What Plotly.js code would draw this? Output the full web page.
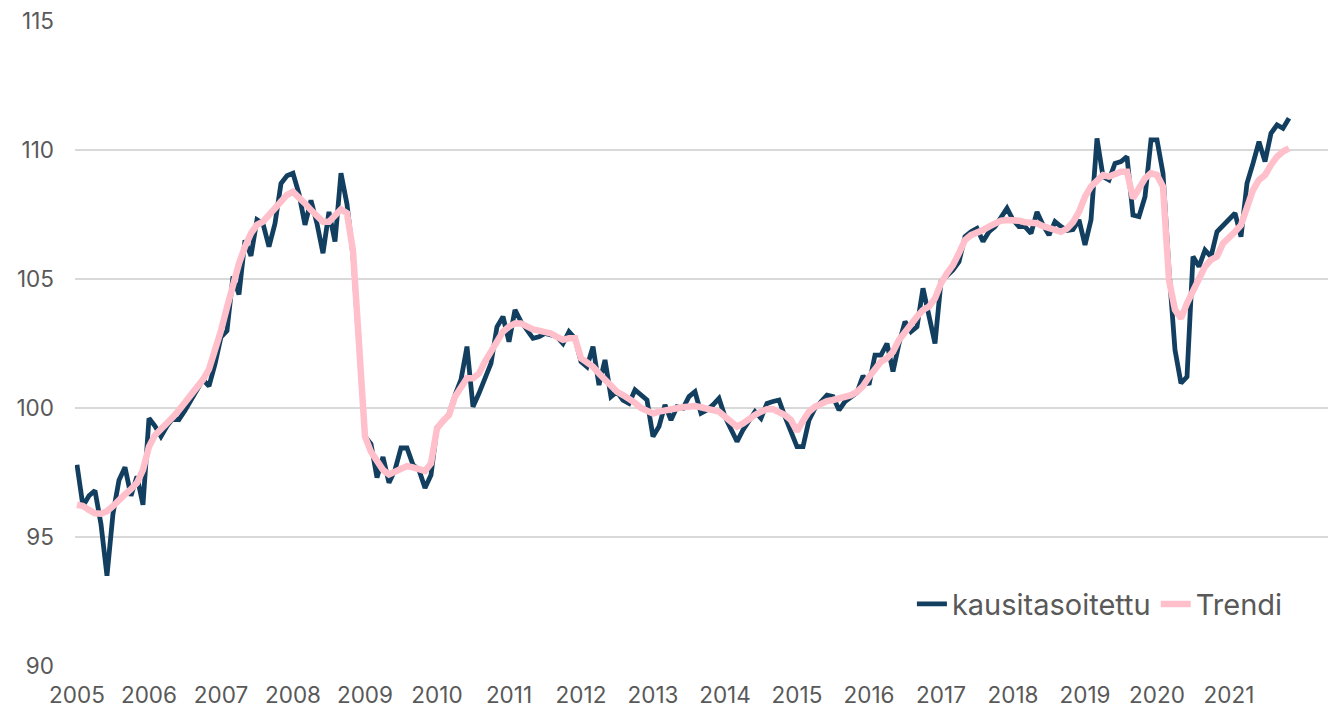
<!DOCTYPE html>
<html>
<head>
<meta charset="utf-8">
<script src="https://cdn.plot.ly/plotly-3.0.1.min.js"></script>
<style>
html,body{margin:0;padding:0;background:#fff;}
#chart{width:1328px;height:707px;}
</style>
</head>
<body>
<div id="chart"></div>
<script>
// Monthly data 2005-01 .. 2021-11
var startYear = 2005;
var yearLabels = ["2005","2006","2007","2008","2009","2010","2011","2012","2013","2014","2015","2016","2017","2018","2019","2020","2021"];

var kausitasoitettu = [
97.8,96.2,96.6,96.8,95.5,93.5,95.9,97.2,97.7,96.6,97.35,96.25,
99.6,99.3,98.9,99.3,99.6,99.55,99.9,100.3,100.7,101.1,100.85,101.7,
102.75,103.0,105.1,104.4,106.5,105.9,107.3,107.15,106.25,107.15,108.7,109.0,
109.1,108.3,107.1,108.05,107.15,106.0,107.6,106.45,109.1,107.9,105.9,102.4,
98.9,98.6,97.3,98.1,97.1,97.6,98.45,98.45,97.8,97.6,96.9,97.4,
99.25,99.47,99.77,100.5,101.1,102.38,100.05,100.57,101.2,101.73,103.15,103.54,
102.57,103.8,103.35,103.02,102.7,102.76,102.89,102.83,102.76,102.5,102.96,102.7,
101.8,101.6,102.38,100.89,101.86,100.44,100.63,100.3,100.18,100.7,100.5,100.31,
98.89,99.28,100.12,99.53,100.05,99.99,100.44,100.63,99.8,99.92,100.12,100.37,
99.66,99.15,98.7,99.15,99.53,99.86,99.6,100.18,100.25,100.31,99.66,99.02,
98.5,98.5,99.53,99.99,100.25,100.5,100.44,99.92,100.25,100.44,100.6,101.25,
100.9,102.05,102.05,102.5,101.41,102.5,103.35,102.96,103.15,104.64,103.6,102.5,
104.9,105.15,105.35,105.67,106.64,106.83,106.96,106.45,106.83,107.03,107.35,107.74,
107.29,107.03,107.03,106.77,107.6,107.09,106.7,107.22,107.03,106.88,106.92,107.29,
106.32,107.29,110.45,108.97,108.84,109.48,109.55,109.74,107.48,107.42,108.19,110.39,
110.39,109.1,105.35,102.25,100.96,101.21,105.87,105.48,106.12,105.87,106.83,107.09,
107.29,107.55,106.64,108.71,109.48,110.32,109.55,110.65,110.97,110.84,111.23
];

var trendi = [
96.25,96.2,96.05,95.92,95.9,96.0,96.2,96.45,96.65,96.85,97.1,97.6,
98.5,98.95,99.16,99.4,99.65,99.92,100.2,100.45,100.8,101.1,101.5,102.2,
103.0,103.9,104.8,105.6,106.25,106.77,107.1,107.22,107.48,107.74,108.0,108.26,
108.38,108.19,107.93,107.67,107.48,107.22,107.22,107.48,107.7,107.55,106.1,102.5,
98.9,98.3,97.92,97.6,97.42,97.53,97.63,97.75,97.7,97.63,97.56,97.85,
99.21,99.5,99.73,100.44,100.83,101.15,101.15,101.34,101.8,102.18,102.64,102.96,
103.15,103.28,103.28,103.15,103.05,103.0,102.96,102.89,102.76,102.64,102.7,102.7,
101.93,101.8,101.6,101.34,101.09,100.83,100.63,100.5,100.37,100.2,100.0,99.86,
99.79,99.86,99.92,99.99,99.99,100.03,100.08,100.08,100.03,99.99,99.92,99.86,
99.66,99.47,99.28,99.4,99.6,99.73,99.86,99.95,99.95,99.86,99.73,99.53,
99.1,99.5,99.86,100.05,100.18,100.27,100.31,100.37,100.45,100.5,100.63,100.85,
101.2,101.54,101.8,101.93,102.18,102.64,102.96,103.22,103.54,103.8,103.93,104.25,
104.83,105.22,105.54,106.0,106.51,106.7,106.77,106.9,107.03,107.16,107.26,107.29,
107.29,107.26,107.2,107.16,107.16,107.05,106.96,106.9,106.83,106.95,107.2,107.6,
108.19,108.58,108.84,109.03,108.97,109.1,109.16,109.16,108.13,108.51,108.9,109.1,
109.03,108.58,104.96,103.8,103.48,104.06,104.57,105.09,105.48,105.74,105.87,106.38,
106.58,106.83,107.09,107.8,108.45,108.84,109.03,109.42,109.74,109.94,110.06
];

// month categories
var months = [];
for (var k = 0; k < kausitasoitettu.length; k++) {
  var y = startYear + Math.floor(k / 12);
  var m = (k % 12) + 1;
  months.push(y + "-" + (m < 10 ? "0" + m : m));
}
var tickVals = yearLabels.map(function (yl) { return yl + "-01"; });

var fontFam = "Inter, 'Open Sans', sans-serif";

var traces = [
  {x: months, y: kausitasoitettu, type: 'scatter', mode: 'lines', name: 'kausitasoitettu',
   line: {color: '#123F5F', width: 4.8, shape: 'linear'}},
  {x: months, y: trendi, type: 'scatter', mode: 'lines', name: 'Trendi',
   line: {color: '#FFC0CB', width: 6.5, shape: 'linear'}}
];

var layout = {
  width: 1328, height: 707,
  paper_bgcolor: '#ffffff', plot_bgcolor: '#ffffff',
  margin: {l: 75, r: 0, t: 21, b: 41},
  font: {family: fontFam, color: '#595959', size: 22},
  showlegend: true,
  legend: {orientation: 'h', x: 0.968, xanchor: 'right', y: 0.096, yanchor: 'middle',
           font: {size: 29, color: '#595959', family: fontFam}, bgcolor: 'rgba(0,0,0,0)',
           itemwidth: 30, tracegroupgap: 0},
  xaxis: {type: 'category', range: [-0.33, 208.5], tickmode: 'array', tickvals: tickVals, ticktext: yearLabels,
          showgrid: false, zeroline: false, showline: false, ticks: '', tickangle: 0,
          tickfont: {size: 22.5, color: '#595959'}, ticklabelstandoff: 13},
  yaxis: {range: [90, 115], tickvals: [90, 95, 100, 105, 110, 115], showgrid: true, gridcolor: '#d9d9d9', gridwidth: 2,
          zeroline: false, showline: false, ticks: '', tickfont: {size: 22.5, color: '#595959'}, ticklabelstandoff: 20}
};

Plotly.newPlot('chart', traces, layout, {displayModeBar: false, staticPlot: true});
</script>
</body>
</html>
